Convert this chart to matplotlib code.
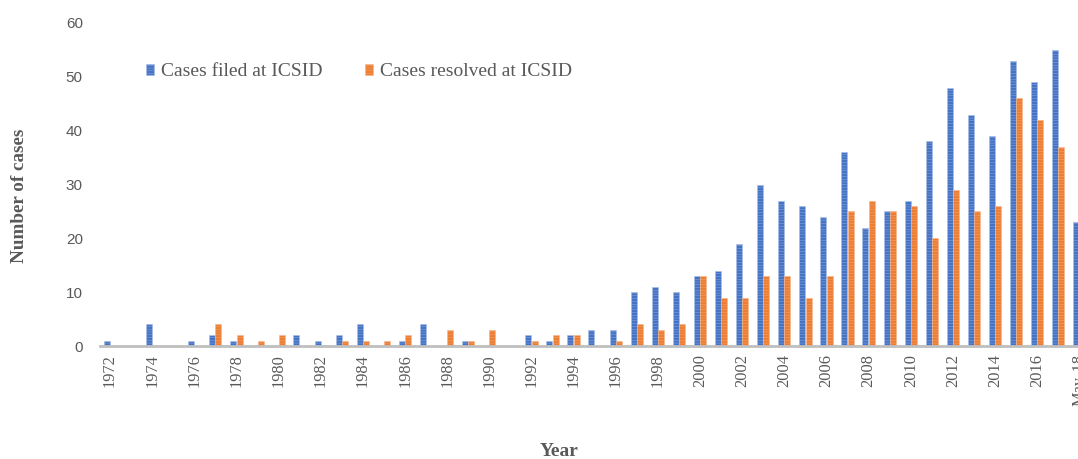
"""ICSID cases filed vs resolved per year"""
import numpy as np
import matplotlib
matplotlib.use('Agg')
import matplotlib.pyplot as plt

# Categories (years)
anos = [str(a) for a in range(1972, 2018)] + ['May-18']

# Cases filed at ICSID
casos_registrados = [1, 0, 4, 0, 1, 2, 1, 0, 0, 2, 1, 2, 4, 0, 1, 4, 0, 1, 0, 0,
                     2, 1, 2, 3, 3, 10, 11, 10, 13, 14, 19, 30, 27, 26, 24, 36,
                     22, 25, 27, 38, 48, 43, 39, 53, 49, 55, 23]

# Cases resolved at ICSID (May-18 value is cut off in the picture)
casos_resolvidos = [0, 0, 0, 0, 0, 4, 2, 1, 2, 0, 0, 1, 1, 1, 2, 0, 3, 1, 3, 0,
                    1, 2, 2, 0, 1, 4, 3, 4, 13, 9, 9, 13, 13, 9, 13, 25,
                    27, 25, 26, 20, 29, 25, 26, 46, 42, 37, np.nan]

AZUL = '#4472C4'
LARANJA = '#ED7D31'
CINZA = '#595959'

plt.rcParams['hatch.linewidth'] = 0.25

fig = plt.figure(figsize=(10.78, 4.59), dpi=100)
W, H = 1078, 459
# axes extends past the right edge, like the cropped original
ax = fig.add_axes([99.5 / W, 1 - 346 / H, (1090 - 99.5) / W, (346 - 23) / H])

x = np.arange(len(anos))
largura = 0.285
ax.bar(x - 0.155, casos_registrados, largura, color=AZUL, label='Cases filed at ICSID',
       edgecolor='#a9bfe6', linewidth=0.4, hatch='------')
ax.bar(x + 0.145, casos_resolvidos, largura, color=LARANJA, label='Cases resolved at ICSID',
       edgecolor='#f5b890', linewidth=0.4, hatch='------')

ax.set_xlim(-0.5, len(anos) - 0.5)
ax.set_ylim(0, 60)
ax.set_yticks(range(0, 61, 10))
for lado in ['top', 'right', 'left']:
    ax.spines[lado].set_visible(False)
ax.spines['bottom'].set_color('#bfbfbf')
ax.spines['bottom'].set_linewidth(2)

ax.set_xticks(x[::2])
ax.set_xticklabels(anos[::2], rotation=90, family='Liberation Serif', fontsize=11.8,
                   color=CINZA, va='top')
ax.tick_params(axis='x', length=0, pad=6)
ax.tick_params(axis='y', length=0, pad=12, labelsize=11, labelcolor=CINZA)
for t in ax.get_yticklabels():
    t.set_family('Liberation Sans')

fig.text(20 / W, 1 - 196 / H, 'Number of cases', rotation=90, ha='center', va='center',
         family='Liberation Serif', fontweight='bold', fontsize=13.8, color=CINZA)
fig.text(559 / W, 1 - 451 / H, 'Year', ha='center', va='center',
         family='Liberation Serif', fontweight='bold', fontsize=14, color=CINZA)

leg = fig.legend(loc='center left', bbox_to_anchor=(128 / W, 1 - 72 / H), ncol=2,
                 frameon=False, handlelength=0.42, handleheight=0.45, handletextpad=0.36,
                 columnspacing=2.2, prop={'family': 'Liberation Serif', 'size': 14})
for t in leg.get_texts():
    t.set_color(CINZA)

fig.savefig('out.png', dpi=100)
